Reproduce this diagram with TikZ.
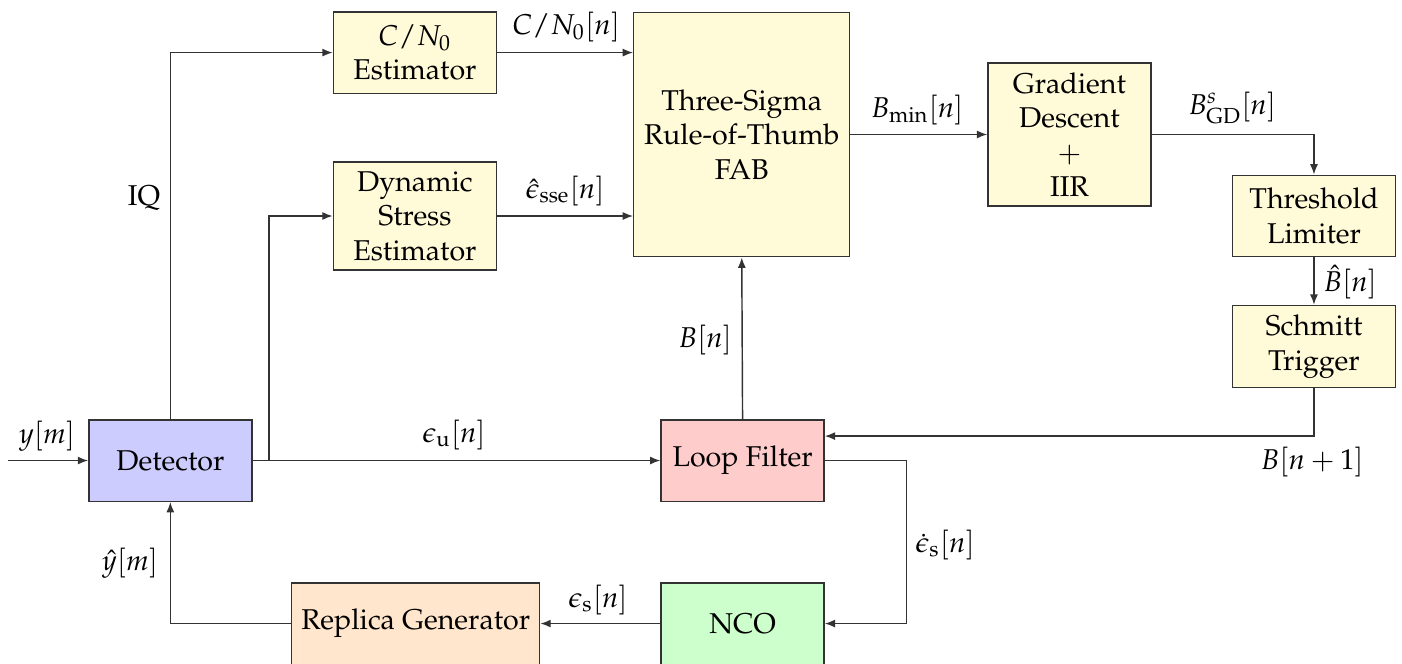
\documentclass[tikz,border=0pt]{standalone}
\usepackage[T1]{fontenc}
\usepackage{mathpazo}
\usepackage{amsmath}
\definecolor{boxyellow}{RGB}{255,250,215}
\definecolor{detblue}{RGB}{204,204,255}
\definecolor{lfred}{RGB}{255,204,204}
\definecolor{ncogreen}{RGB}{204,255,204}
\definecolor{reporange}{RGB}{255,230,204}
\usetikzlibrary{arrows.meta, positioning, calc}
\tikzset{
  blk/.style={draw=black!80, fill=#1, minimum width=2cm, minimum height=1cm,
              align=center, line width=0.5pt},
  arr/.style={-{Latex[length=3.6pt, width=2.8pt]}, draw=black!80, line width=0.5pt},
  lbl/.style={inner sep=1pt},
}

\begin{document}
\begin{tikzpicture}
    \useasboundingbox (0,0) rectangle (17.20,8.135);

    % ── BLOCKS ──────────────────────────────────────────────
    \node[blk=detblue]  (det) at (2.09,2.485) {Detector};
    \node[blk=lfred]    (lf)  at (9.11,2.485) {Loop Filter};
    \node[blk=ncogreen] (nco) at (9.11,0.485) {NCO};
    \node[blk=reporange](rep) at (5.10,0.485) {Replica Generator};
    \node[blk=boxyellow](cn0) at (5.09,7.49)  {$C/N_0$\\Estimator};
    \node[blk=boxyellow](dse) at (5.09,5.485) {Dynamic\\Stress\\Estimator};
    \node[blk=boxyellow, minimum width=2.65cm, minimum height=3cm]
                        (tsr) at (9.10,6.485) {Three-Sigma\\Rule-of-Thumb\\FAB};
    \node[blk=boxyellow](gd)  at (13.12,6.485){Gradient\\Descent\\$+$\\IIR};
    \node[blk=boxyellow](thr) at (16.12,5.485){Threshold\\Limiter};
    \node[blk=boxyellow](st)  at (16.12,3.883){Schmitt\\Trigger};

    % ── HELPER POINTS ───────────────────────────────────────
    \coordinate (in)  at (0.10,2.485);
    \coordinate (br)  at (3.30,2.485);
    \coordinate (fb)  at ($(lf.east)+(0,0.30)$);
    \coordinate (lfo) at (11.12,2.485);

    % ── CONNECTORS ──────────────────────────────────────────
    \draw[arr] (in) -- (det.west);
    \draw[arr] (det.north) |- (cn0.west);
    \draw[arr] (det.east) -- (lf.west);
    \draw[arr] (br) |- (dse.west);
    \draw[arr] (cn0.east) -- (cn0.east -| tsr.west);
    \draw[arr] (dse.east) -- (dse.east -| tsr.west);
    \draw[arr] (lf.north) -- (tsr.south);
    \draw[arr] (tsr.east) -- (gd.west);
    \draw[arr] (gd.east) -| (thr.north);
    \draw[arr] (thr.south) -- (st.north);
    \draw[arr] (st.south) |- (fb);
    \draw[arr] (lf.east) -- (lfo) |- (nco.east);
    \draw[arr] (nco.west) -- (rep.east);
    \draw[arr] (rep.west) -| (det.south);

    % ── SIGNAL LABELS ───────────────────────────────────────
    \node[lbl](ym)   at (0.577,2.785) {$y[m]$};
    \node[lbl](iq)   at (1.767,5.706) {IQ};
    \node[lbl](eu)   at (5.571,2.798) {$\epsilon_{\mathrm{u}}[n]$};
    \node[lbl](cnn)  at (6.945,7.798) {$C/N_0[n]$};
    \node[lbl](esse) at (6.933,5.791) {$\hat{\epsilon}_{\mathrm{sse}}[n]$};
    \node[lbl](bn)   at (8.650,3.963) {$B[n]$};
    \node[lbl](bmin) at (11.252,6.785){$B_{\min}[n]$};
    \node[lbl](bgd)  at (15.117,6.810){$B^{s}_{\mathrm{GD}}[n]$};
    \node[lbl](bhat) at (16.564,4.675){$\hat{B}[n]$};
    \node[lbl](bnp)  at (16.098,2.466){$B[n+1]$};
    \node[lbl](esd)  at (11.595,1.448){$\dot{\epsilon}_{\mathrm{s}}[n]$};
    \node[lbl](es)   at (7.337,0.773) {$\epsilon_{\mathrm{s}}[n]$};
    \node[lbl](yhat) at (1.595,1.227) {$\hat{y}[m]$};
\end{tikzpicture}
\end{document}
